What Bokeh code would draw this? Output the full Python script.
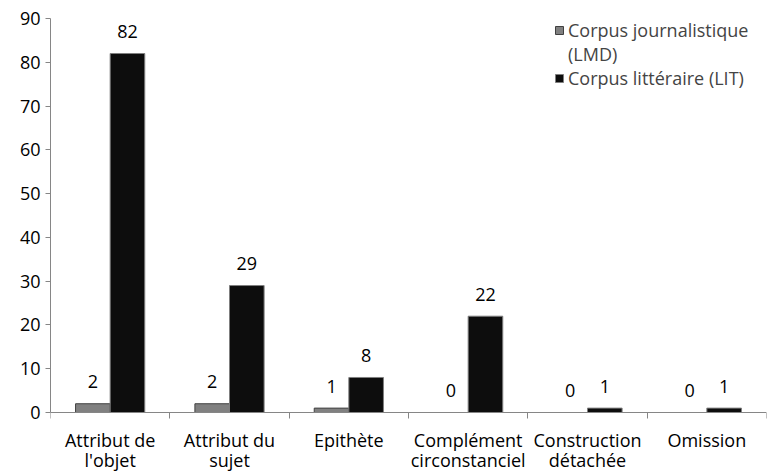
from bokeh.plotting import figure
from bokeh.models import ColumnDataSource, FixedTicker, Legend, LegendItem
from bokeh.core.properties import value
from bokeh.embed import file_html
from bokeh.resources import INLINE

categories = ["Attribut de\nl'objet", "Attribut du\nsujet", "Epithète",
              "Complément\ncirconstanciel", "Construction\ndétachée", "Omission"]
lmd = [2, 2, 1, 0, 0, 0]
lit = [82, 29, 8, 22, 1, 1]
series_names = ["Corpus journalistique", "(LMD)", "Corpus littéraire (LIT)"]
y_ticks = [0, 10, 20, 30, 40, 50, 60, 70, 80, 90]

FONT = "Open Sans"
FS = "18px"
BW = 0.29
Y_MAX = 90
# room below zero (in data units) for the category labels: 59px at 394px per 90 units
Y_BELOW = 59 * Y_MAX / 394

centers = [i + 0.5 for i in range(len(categories))]
src1 = ColumnDataSource(dict(x=[c - BW / 2 for c in centers], top=lmd, lab=[str(v) for v in lmd]))
src2 = ColumnDataSource(dict(x=[c + BW / 2 for c in centers], top=lit, lab=[str(v) for v in lit]))

p = figure(width=769, height=471, output_backend="svg", toolbar_location=None,
           x_range=(0, len(categories)), y_range=(-Y_BELOW, Y_MAX),
           min_border_left=50, min_border_right=3, min_border_top=18, min_border_bottom=0)
p.outline_line_color = None
p.xgrid.visible = False
p.ygrid.visible = False
p.background_fill_color = "white"

r1 = p.vbar(x="x", top="top", width=BW, source=src1, fill_color="#808080", line_color="#404040", line_width=1)
r2 = p.vbar(x="x", top="top", width=BW, source=src2, fill_color="#0d0d0d", line_color="#7f7f7f", line_width=1)
r_blank = p.vbar(x=[], top=[], width=BW, fill_alpha=0, line_alpha=0)

for src in (src1, src2):
    p.text(x="x", y="top", text="lab", source=src, text_align="center", text_baseline="middle",
           y_offset=-22, text_font=value(FONT), text_font_size=FS, text_color="#000000")

# x axis placed at y = 0
p.xaxis.fixed_location = 0
p.xaxis.ticker = FixedTicker(ticks=centers, minor_ticks=list(range(len(categories) + 1)))
p.xaxis.major_label_overrides = {c: lab for c, lab in zip(centers, categories)}
p.xaxis.major_tick_out = 0
p.xaxis.major_tick_in = 0
p.xaxis.minor_tick_out = 6
p.xaxis.minor_tick_in = 0
p.xaxis.minor_tick_line_color = "#868686"
p.xaxis.axis_line_color = "#868686"
p.xaxis.major_label_text_font = FONT
p.xaxis.major_label_text_font_size = FS
p.xaxis.major_label_text_line_height = 0.86
p.xaxis.major_label_text_color = "#000000"
p.xaxis.major_label_standoff = 9

p.yaxis.ticker = FixedTicker(ticks=y_ticks)
p.yaxis.bounds = (0, Y_MAX)
p.yaxis.major_tick_out = 5
p.yaxis.major_tick_in = 0
p.yaxis.minor_tick_line_color = None
p.yaxis.major_tick_line_color = "#868686"
p.yaxis.axis_line_color = "#868686"
p.yaxis.major_label_text_font = FONT
p.yaxis.major_label_text_font_size = FS
p.yaxis.major_label_text_color = "#000000"
p.yaxis.major_label_standoff = 5

legend = Legend(items=[LegendItem(label=series_names[0], renderers=[r1]),
                       LegendItem(label=series_names[1], renderers=[r_blank]),
                       LegendItem(label=series_names[2], renderers=[r2])],
                location="top_right", border_line_color=None, background_fill_alpha=0,
                label_text_font=FONT, label_text_font_size=FS, label_text_line_height=0.8,
                glyph_width=10, glyph_height=10, label_standoff=4, spacing=0,
                label_width=198, label_height=20, padding=0, margin=0)
p.add_layout(legend)

open("out.html", "w").write(file_html(p, INLINE))
